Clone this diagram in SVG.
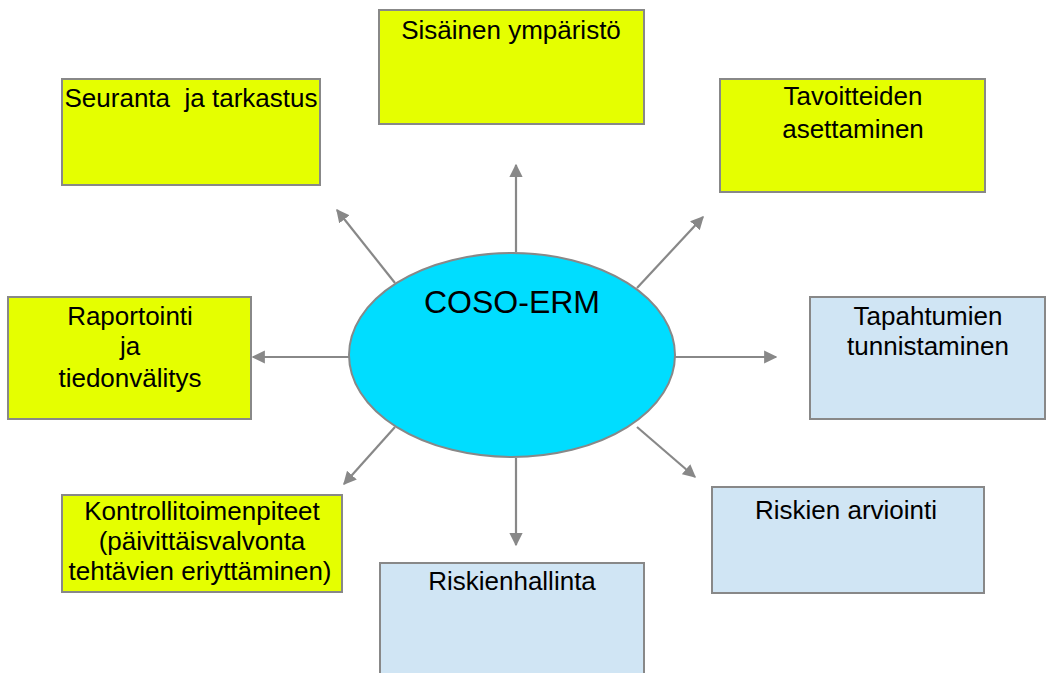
<svg xmlns="http://www.w3.org/2000/svg" width="1046" height="673" viewBox="0 0 1046 673">
<style>
.y{fill:#E5FF00;stroke:#888;stroke-width:2}
.b{fill:#D0E5F4;stroke:#888;stroke-width:2}
.t{font-family:"Liberation Sans",Arial,sans-serif;font-size:26px;fill:#000;text-anchor:middle}
.c{stroke:#888;stroke-width:2.2;fill:none;marker-end:url(#ah)}
</style>
<defs>
<marker id="ah" viewBox="0 0 10 10" refX="9" refY="5" markerWidth="6" markerHeight="6" orient="auto" markerUnits="strokeWidth">
<path d="M0,0 L10,5 L0,10 z" fill="#888"/>
</marker>
</defs>
<rect width="1046" height="673" fill="#fff"/>
<g id="connectors">
<line class="c" x1="516" y1="252" x2="516" y2="165"/>
<line class="c" x1="395" y1="283" x2="337" y2="210"/>
<line class="c" x1="637" y1="288" x2="703" y2="217"/>
<line class="c" x1="349" y1="357" x2="253" y2="357"/>
<line class="c" x1="675" y1="357" x2="776" y2="357"/>
<line class="c" x1="395" y1="427" x2="344" y2="484"/>
<line class="c" x1="516" y1="458" x2="516" y2="545"/>
<line class="c" x1="637" y1="427" x2="695" y2="477"/>
</g>
<g id="center">
<ellipse cx="512" cy="355" rx="163" ry="102" fill="#00DDFF" stroke="#888" stroke-width="2"/>
<text class="t" x="512" y="313" style="font-size:32px">COSO-ERM</text>
</g>
<g id="sisainen">
<rect class="y" x="379" y="10" width="265" height="114"/>
<text class="t" x="511" y="39">Sisäinen ympäristö</text>
</g>
<g id="seuranta">
<rect class="y" x="62" y="79" width="258" height="106"/>
<text class="t" x="191" y="107" xml:space="preserve">Seuranta  ja tarkastus</text>
</g>
<g id="tavoitteiden">
<rect class="y" x="720" y="79" width="265" height="113"/>
<text class="t" x="853" y="105">Tavoitteiden</text>
<text class="t" x="853" y="138">asettaminen</text>
</g>
<g id="raportointi">
<rect class="y" x="8" y="297" width="243" height="122"/>
<text class="t" x="130" y="325">Raportointi</text>
<text class="t" x="130" y="355">ja</text>
<text class="t" x="130" y="387">tiedonvälitys</text>
</g>
<g id="tapahtumien">
<rect class="b" x="810" y="297" width="235" height="122"/>
<text class="t" x="928" y="325">Tapahtumien</text>
<text class="t" x="928" y="355">tunnistaminen</text>
</g>
<g id="kontrolli">
<rect class="y" x="62" y="495" width="280" height="97"/>
<text class="t" x="202" y="520">Kontrollitoimenpiteet</text>
<text class="t" x="202" y="550">(päivittäisvalvonta</text>
<text class="t" x="200" y="580">tehtävien eriyttäminen)</text>
</g>
<g id="riskien-arviointi">
<rect class="b" x="712" y="487" width="272" height="106"/>
<text class="t" x="846" y="519">Riskien arviointi</text>
</g>
<g id="riskienhallinta">
<rect class="b" x="380" y="563" width="264" height="120"/>
<text class="t" x="512" y="590">Riskienhallinta</text>
</g>
</svg>
